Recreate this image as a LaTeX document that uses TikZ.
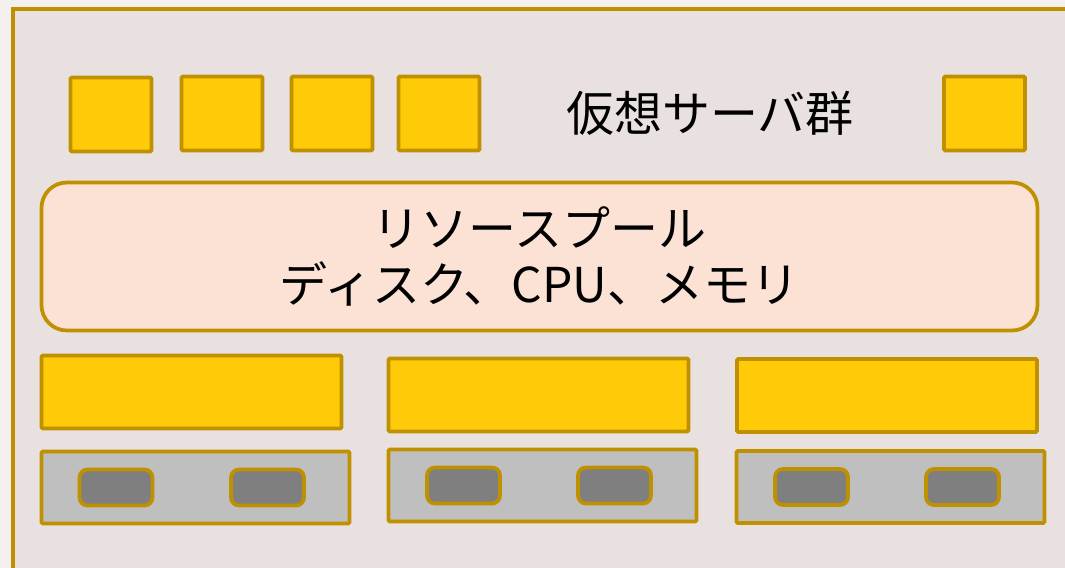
\documentclass[tikz,border=0pt]{standalone}
\usepackage{fontspec}
\newfontfamily\jp{Noto Sans CJK JP}
\definecolor{frameC}{HTML}{BF9000}
\definecolor{bgC}{HTML}{E9E1E0}
\definecolor{outC}{HTML}{F3F0EF}
\definecolor{yelC}{HTML}{FFCA08}
\definecolor{poolC}{HTML}{FBE2D4}
\definecolor{grayC}{HTML}{BFBFBF}
\definecolor{darkC}{HTML}{7F7F7F}
\tikzset{
  px/.style={x=0.75pt,y=-0.75pt},
  base/.style={draw=frameC,line width=2.8pt,inner sep=0pt,outer sep=0pt},
  vm/.style={base,fill=yelC,minimum width=0.75pt*81,minimum height=0.75pt*74,rounded corners=1pt},
  bar/.style={base,fill=yelC,minimum width=0.75pt*300,minimum height=0.75pt*73,rounded corners=1pt},
  hw/.style={base,fill=grayC,minimum width=0.75pt*308,minimum height=0.75pt*72,rounded corners=1pt},
  disk/.style={base,fill=darkC,minimum width=0.75pt*73,minimum height=0.75pt*36,rounded corners=6pt},
  pool/.style={base,fill=poolC,minimum width=0.75pt*996,minimum height=0.75pt*148,rounded corners=19pt,
    font=\jp\fontsize{36}{42.5}\selectfont,align=center},
  lbl/.style={font=\jp\fontsize{36}{42.5}\selectfont,inner sep=0pt}
}
\begin{document}
\begin{tikzpicture}[px]
\useasboundingbox (0,0) rectangle (1065,568);
\clip (0,0) rectangle (1065,568);
\fill[outC] (0,0) rectangle (1065,568);
\draw[base,fill=bgC] (13,9) rectangle (1080,590);
\node[vm] (s1) at (111,114.5) {};
\node[vm] (s2) at (222,113.5) {};
\node[vm] (s3) at (332,113.5) {};
\node[vm] (s4) at (439,113.5) {};
\node[vm] (s5) at (984.5,113.5) {};
\node[lbl] (vlabel) at (710,113) {仮想サーバ群};
\node[pool] (pool) at (539.5,256.5) {リソースプール\\ディスク、CPU、メモリ};
\node[bar] (b1) at (191.5,392) {};
\node[bar] (b2) at (538.5,395) {};
\node[bar] (b3) at (887,395.5) {};
\node[hw] (h1) at (195.5,487.5) {};
\node[hw] (h2) at (542.5,485.5) {};
\node[hw] (h3) at (890.5,487) {};
\node[disk] (d1a) at (116,487.5) {};
\node[disk] (d1b) at (267.5,487.5) {};
\node[disk] (d2a) at (463.5,485.5) {};
\node[disk] (d2b) at (614.5,485.5) {};
\node[disk] (d3a) at (811.5,487) {};
\node[disk] (d3b) at (962.5,487) {};
\end{tikzpicture}
\end{document}
